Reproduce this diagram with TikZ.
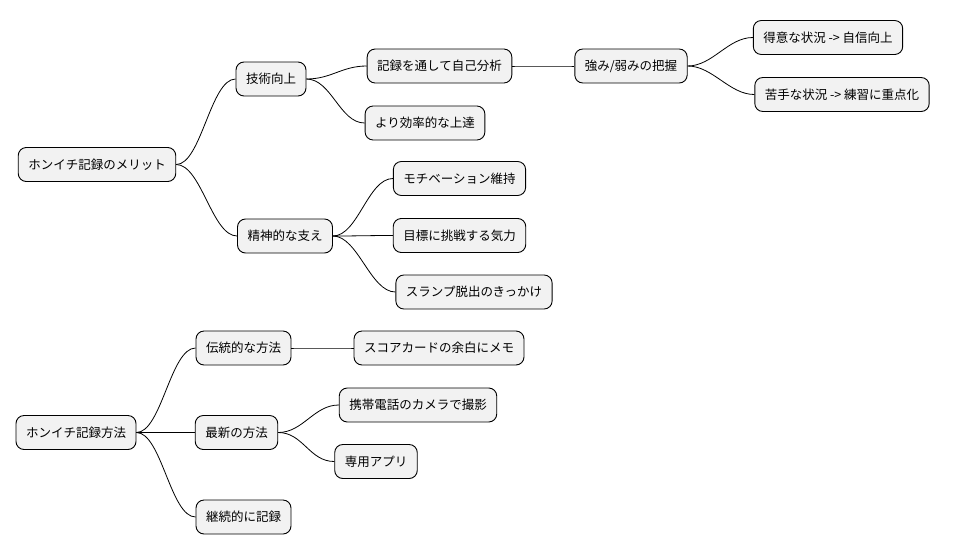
\documentclass[tikz,border=0pt]{standalone}
\usepackage{fontspec}
\setmainfont{Noto Sans CJK JP}
\begin{document}
\begin{tikzpicture}[x=1pt,y=-1pt,
  box/.style={draw=black,line width=0.9pt,fill=black!5,rounded corners=8pt,minimum height=34pt,inner xsep=10pt,font=\fontsize{12.5}{14}\selectfont},
  con/.style={line width=0.8pt}]
\useasboundingbox (0,0) rectangle (953,555);
\node[box] (r1) at (97,164.5) {ホンイチ記録のメリット};
\node[box] (a) at (271,79) {技術向上};
\node[box] (a1) at (439.5,66) {記録を通して自己分析};
\node[box] (a11) at (631,66) {強み/弱みの把握};
\node[box] (a111) at (828,37.5) {得意な状況 -> 自信向上};
\node[box] (a112) at (842,94.5) {苦手な状況 -> 練習に重点化};
\node[box] (a2) at (425,123) {より効率的な上達};
\node[box] (b) at (285,236) {精神的な支え};
\node[box] (b1) at (459.5,178.5) {モチベーション維持};
\node[box] (b2) at (459.5,235.5) {目標に挑戦する気力};
\node[box] (b3) at (474,292) {スランプ脱出のきっかけ};
\node[box] (r2) at (76,432.5) {ホンイチ記録方法};
\node[box] (c) at (243.5,348) {伝統的な方法};
\node[box] (c1) at (439,348) {スコアカードの余白にメモ};
\node[box] (d) at (236.5,432.5) {最新の方法};
\node[box] (d1) at (418,405) {携帯電話のカメラで撮影};
\node[box] (d2) at (376,461.5) {専用アプリ};
\node[box] (e) at (243.5,517) {継続的に記録};
\foreach \p/\c in {r1/a,r1/b,a/a1,a/a2,a1/a11,a11/a111,a11/a112,b/b1,b/b2,b/b3,r2/c,r2/d,r2/e,c/c1,d/d1,d/d2}
  \draw[con] (\p.east) .. controls +(25,0) and +(-25,0) .. (\c.west);
\end{tikzpicture}
\end{document}
